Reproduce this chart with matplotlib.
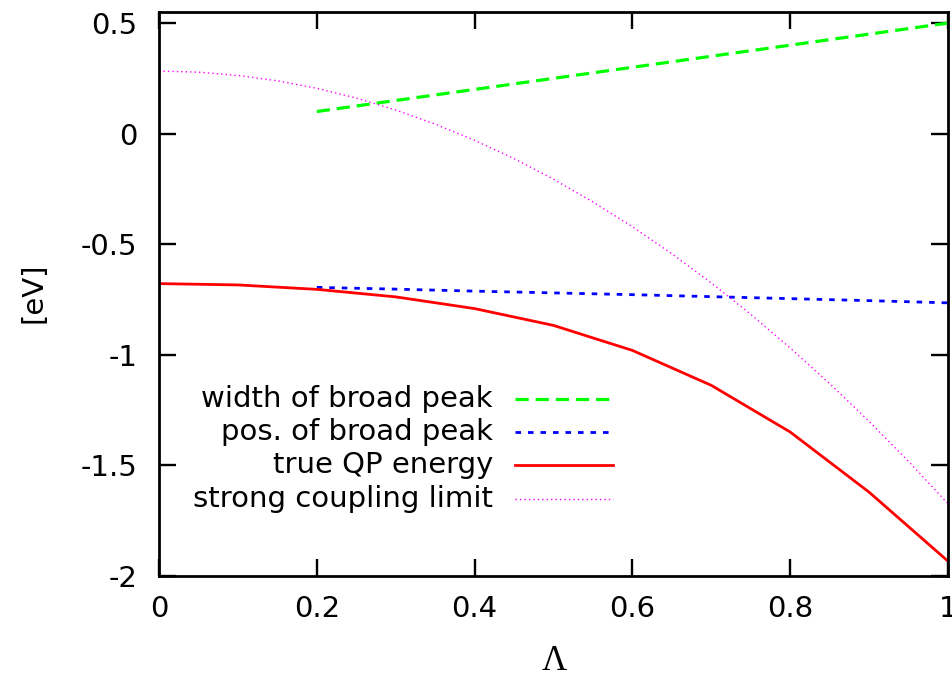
import matplotlib
matplotlib.use("Agg")
import matplotlib.pyplot as plt
from matplotlib.lines import Line2D

plt.rcParams['font.family'] = ['DejaVu Sans']
plt.rcParams['axes.unicode_minus'] = False
plt.rcParams['lines.scale_dashes'] = False

# Data
lam_peak = [0.2, 0.3, 0.4, 0.5, 0.6, 0.7, 0.8, 0.9, 1.0]
width_peak = [0.10, 0.15, 0.20, 0.25, 0.30, 0.35, 0.40, 0.45, 0.50]
pos_peak = [-0.695, -0.703, -0.712, -0.720, -0.728, -0.737, -0.746, -0.755, -0.765]

lam_qp = [0.0, 0.1, 0.2, 0.3, 0.4, 0.5, 0.6, 0.7, 0.8, 0.9, 1.0]
qp_energy = [-0.678, -0.684, -0.704, -0.738, -0.791, -0.867, -0.980, -1.138, -1.349, -1.621, -1.933]

lam_sc = [0.0, 0.05, 0.1, 0.15, 0.2, 0.25, 0.3, 0.35, 0.4, 0.45, 0.5,
          0.55, 0.6, 0.65, 0.7, 0.75, 0.8, 0.85, 0.9, 0.95, 1.0]
strong_coupling = [0.283, 0.278, 0.263, 0.239, 0.205, 0.161, 0.107, 0.043, -0.030, -0.113, -0.206,
                   -0.309, -0.421, -0.543, -0.675, -0.817, -0.969, -1.130, -1.301, -1.482, -1.673]

labels = ["width of broad peak", "pos. of broad peak", "true QP energy", "strong coupling limit"]
xticks = [0, 0.2, 0.4, 0.6, 0.8, 1.0]
xticklabels = ["0", "0.2", "0.4", "0.6", "0.8", "1"]
yticks = [-2, -1.5, -1, -0.5, 0, 0.5]
yticklabels = ["-2", "-1.5", "-1", "-0.5", "0", "0.5"]

FS = 21
W, H = 952, 675
fig = plt.figure(figsize=(W / 100, H / 100), dpi=100)
ax = fig.add_axes([159 / W, 1 - 576 / H, (948 - 159) / W, (576 - 12) / H])

styles = [
    dict(color='#00ff00', lw=2.3, dashes=(9.5, 5.0)),
    dict(color='#0000ff', lw=2.0, dashes=(4.0, 5.0)),
    dict(color='#ff0000', lw=2.0, linestyle='-'),
    dict(color='#ff00ff', lw=1.0, dashes=(1.0, 2.2)),
]

ax.plot(lam_peak, width_peak, **styles[0])
ax.plot(lam_peak, pos_peak, **styles[1])
ax.plot(lam_qp, qp_energy, **styles[2])
ax.plot(lam_sc, strong_coupling, **styles[3])

ax.set_xlim(0, 1)
ax.set_ylim(-2, 0.55)
ax.set_xticks(xticks)
ax.set_xticklabels(xticklabels)
ax.set_yticks(yticks)
ax.set_yticklabels(yticklabels)
ax.tick_params(direction='in', length=12.5, width=1.7, top=True, right=True,
               labelsize=FS, colors='black')
ax.tick_params(axis='y', pad=15.5)
ax.tick_params(axis='x', pad=13.5)
for s in ax.spines.values():
    s.set_linewidth(2.0)

# Legend drawn manually (gnuplot style: right-aligned text, sample on right)
rows_y = [399, 432, 465, 499]
for lab, st, yp in zip(labels, styles, rows_y):
    ya = 1 - (yp - 12) / (576 - 12)
    ax.text((493 - 159) / (948 - 159), ya, lab, transform=ax.transAxes,
            ha='right', va='center', fontsize=FS)
    ln = Line2D([(515 - 159) / (948 - 159), (613 - 159) / (948 - 159)], [ya, ya],
                transform=ax.transAxes, **st)
    ax.add_line(ln)

fig.text(34 / W, 1 - 293 / H, "[eV]", rotation=90, ha='center', va='center', fontsize=FS)
fig.text(554 / W, 1 - 670 / H, "Λ", ha='center', va='baseline', fontsize=25,
         family=['Liberation Serif', 'DejaVu Serif'])

fig.savefig("out.png", dpi=100)
